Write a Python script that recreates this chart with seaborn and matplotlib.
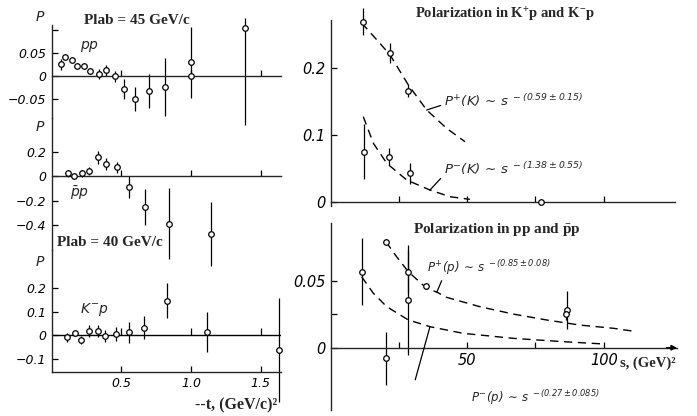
import numpy as np
import pandas as pd
import matplotlib
matplotlib.use("Agg")
import matplotlib.pyplot as plt
import seaborn as sns

# ---------------- data ----------------
# Left: P vs -t
t_pp45 = [0.068, 0.10, 0.145, 0.18, 0.235, 0.276, 0.34, 0.39, 0.455, 0.52, 0.60, 0.70, 0.81, 1.0, 1.0, 1.39]
P_pp45 = [0.026, 0.041, 0.035, 0.022, 0.022, 0.011, 0.004, 0.012, -0.001, -0.028, -0.049, -0.032, -0.023, 0.030, 0.001, 0.104]
elo_pp45 = [0.012, 0.005, 0.004, 0.004, 0.004, 0.007, 0.011, 0.011, 0.011, 0.021, 0.026, 0.037, 0.063, 0.077, 0.004, 0.21]
ehi_pp45 = [0.012, 0.005, 0.004, 0.004, 0.004, 0.007, 0.011, 0.011, 0.011, 0.021, 0.026, 0.037, 0.063, 0.077, 0.004, 0.022]

t_pbp45 = [0.116, 0.16, 0.216, 0.27, 0.335, 0.39, 0.47, 0.555, 0.67, 0.84, 1.14]
P_pbp45 = [0.022, -0.003, 0.022, 0.040, 0.153, 0.098, 0.071, -0.092, -0.25, -0.39, -0.476]
e_pbp45 = [0.03, 0.02, 0.03, 0.03, 0.055, 0.052, 0.045, 0.088, 0.146, 0.29, 0.26]

t_kmp40 = [0.11, 0.165, 0.21, 0.27, 0.33, 0.386, 0.46, 0.556, 0.663, 0.83, 1.115, 1.63]
P_kmp40 = [-0.01, 0.007, -0.021, 0.018, 0.018, -0.003, 0.004, 0.011, 0.031, 0.146, 0.011, -0.064]
e_kmp40 = [0.018, 0.012, 0.018, 0.026, 0.026, 0.025, 0.028, 0.046, 0.05, 0.075, 0.085, 0.22]

t_ticks = [0.5, 1.0, 1.5]
t_ticklabels = ["0.5", "1.0", "1.5"]

# Right top: K+p, K-p vs s
s_Kp = [12.0, 21.8, 28.5]
P_Kp = [0.27, 0.2225, 0.1665]
e_Kp = [0.02, 0.015, 0.01]
s_Km = [12.4, 21.5, 29.1, 77.0]
P_Km = [0.075, 0.0675, 0.0425, -0.001]
e_Km = [0.041, 0.0125, 0.016, 0.004]
sKp_fit = [11.4, 18.1, 21.8, 28.5, 35.2, 42.5, 49.2]
PKp_fit = [0.268, 0.2375, 0.22, 0.175, 0.1375, 0.11, 0.09]
sKm_fit = [12.0, 15.7, 20.6, 27.9, 36.4, 43.7, 51.0]
PKm_fit = [0.1275, 0.0875, 0.0575, 0.0325, 0.0175, 0.0075, 0.0035]

# Right bottom: pp, pbar p vs s
s_pp = [20.3, 28.5, 34.8, 86.4, 86.0]
P_pp = [0.0791, 0.0567, 0.046, 0.028, 0.025]
e_pp = [0.002, 0.016, 0.002, 0.014, 0.004]
s_pbp = [11.4, 20.3, 28.5]
P_pbp = [0.0567, -0.0079, 0.0356]
e_pbp = [0.025, 0.02, 0.041]
spp_fit = [20.3, 24.2, 28.5, 35.2, 38.9, 42.5, 54.7, 66.9, 79.1, 91.3, 103.5, 112.0]
Ppp_fit = [0.0791, 0.0679, 0.0567, 0.0443, 0.0415, 0.0376, 0.0306, 0.0251, 0.0207, 0.0169, 0.0145, 0.012]
spbp_fit = [11.4, 15.7, 20.6, 28.5, 36.4, 48.6, 66.9, 85.2, 99.8]
Ppbp_fit = [0.053, 0.0406, 0.0306, 0.0207, 0.0157, 0.0107, 0.007, 0.0045, 0.0028]

s_ticks = [25, 50, 75, 100]
s_ticklabels = ["", "50", "", "100"]

# ---------------- style ----------------
sns.set_theme(style="ticks")
plt.rcParams["font.family"] = ["DejaVu Sans"]
plt.rcParams["mathtext.fontset"] = "custom"
plt.rcParams["mathtext.it"] = "DejaVu Sans:italic"
plt.rcParams["mathtext.rm"] = "DejaVu Sans:italic"
plt.rcParams["mathtext.bf"] = "Liberation Serif:bold"
plt.rcParams["axes.linewidth"] = 1.0

W, H = 697, 416
fig = plt.figure(figsize=(W / 100, H / 100), dpi=100)
fig.patch.set_facecolor("white")


def rect(l, t, r, b):
    return [l / W, 1 - b / H, (r - l) / W, (b - t) / H]


def ftext(x, y, s, **kw):
    fig.text(x / W, 1 - y / H, s, **kw)


SERIF = ["Liberation Serif", "DejaVu Serif"]
DASH = (0, (6, 4))


def points(ax, x, y, yerr):
    ax.errorbar(x, y, yerr=yerr, fmt="none", ecolor="black", elinewidth=0.9,
                capsize=0, clip_on=False, zorder=2)
    sns.scatterplot(x=x, y=y, ax=ax, marker="o", s=16, facecolor="white",
                    edgecolor="black", linewidth=0.9, zorder=3, clip_on=False,
                    legend=False)


def curve(ax, x, y):
    sns.lineplot(x=x, y=y, ax=ax, color="black", linewidth=1.0,
                 linestyle=DASH, estimator=None, sort=False, legend=False)


def base(ax):
    ax.patch.set_visible(False)
    for sp in ["top", "right"]:
        ax.spines[sp].set_visible(False)
    ax.tick_params(direction="in", length=4, width=0.9, colors="black")
    ax.set_xlabel("")
    ax.set_ylabel("")


# ---------------- left panels ----------------
ax1 = fig.add_axes(rect(51.5, 25, 281, 118))
ax2 = fig.add_axes(rect(51.5, 118, 281, 250))
ax3 = fig.add_axes(rect(51.5, 250, 281, 372))

points(ax1, t_pp45, P_pp45, [elo_pp45, ehi_pp45])
points(ax2, t_pbp45, P_pbp45, e_pbp45)
points(ax3, t_kmp40, P_kmp40, e_kmp40)

lims = [(-0.0913, 0.1109), (-0.604, 0.4735), (-0.1574, 0.3617)]
yt = [([0.1, 0.05, 0, -0.05], ["", "0.05", "0", "\u22120.05"]),
      ([0.2, 0, -0.2, -0.4], ["0.2", "0", "\u22120.2", "\u22120.4"]),
      ([0.2, 0.1, 0, -0.1], ["0.2", "0.1", "0", "\u22120.1"])]
for ax, lim, (tv, tl) in zip([ax1, ax2, ax3], lims, yt):
    base(ax)
    ax.set_xlim(0, 1.645)
    ax.set_ylim(*lim)
    ax.set_yticks(tv)
    ax.set_yticklabels(tl, fontsize=9, fontstyle="italic")
    ax.set_xticks(t_ticks)

for ax in [ax1, ax2]:
    ax.spines["bottom"].set_position(("data", 0))
    ax.tick_params(axis="x", labelbottom=False)

ax3.set_xticklabels(t_ticklabels, fontsize=9, fontstyle="italic")
ax3.axhline(0, color="black", lw=1.0, zorder=1)
ax3.vlines(t_ticks, 0, 0.03, color="black", lw=0.9)

for y in [17, 127, 262]:
    ftext(40, y, "P", fontsize=10, fontstyle="italic", ha="center", va="center")

ftext(137, 20, "Plab = 45 GeV/c", family=SERIF, fontweight="bold", fontsize=11,
      ha="center", va="center")
ftext(110, 243, "Plab = 40 GeV/c", family=SERIF, fontweight="bold", fontsize=11,
      ha="center", va="center")
ftext(90, 47, "$pp$", fontsize=10, ha="center", va="center")
ftext(80, 193, r"$\bar{p}p$", fontsize=10, ha="center", va="center")
ftext(94, 310, "$K^{-}p$", fontsize=10, ha="center", va="center")
ftext(236, 405, "--t, (GeV/c)\u00b2", family=SERIF, fontweight="bold",
      fontsize=11.5, ha="center", va="center")

# ---------------- right top ----------------
ax4 = fig.add_axes(rect(330.5, 20, 675, 206))
base(ax4)
curve(ax4, sKp_fit, PKp_fit)
curve(ax4, sKm_fit, PKm_fit)
points(ax4, s_Kp, P_Kp, e_Kp)
points(ax4, s_Km, P_Km, e_Km)
ax4.set_xlim(0, 126.05)
ax4.set_ylim(-0.00645, 0.2725)
ax4.spines["bottom"].set_position(("data", 0))
ax4.set_xticks(s_ticks)
ax4.tick_params(axis="x", labelbottom=False)
ax4.set_yticks([0, 0.1, 0.2])
ax4.set_yticklabels(["0", "0.1", "0.2"], fontsize=10.5, fontstyle="italic")
ax4.set_xlabel("")
ax4.set_ylabel("")

ax4.annotate(r"$P^{+}(K)\,\sim\,s^{\ -(0.59\pm0.15)}$", xy=(sKp_fit[4], PKp_fit[4]),
             xytext=(41.5, 0.151), fontsize=9.5, ha="left", va="center",
             arrowprops=dict(arrowstyle="-", color="black", lw=0.9,
                             shrinkA=0, shrinkB=0, relpos=(0.0, 0.3)))
ax4.annotate(r"$P^{-}(K)\,\sim\,s^{\ -(1.38\pm0.55)}$", xy=(sKm_fit[4], PKm_fit[4]),
             xytext=(41.5, 0.049), fontsize=9.5, ha="left", va="center",
             arrowprops=dict(arrowstyle="-", color="black", lw=0.9,
                             shrinkA=0, shrinkB=0, relpos=(0.0, 0.15)))
ftext(505, 15, r"Polarization in K$\mathbf{^{+}}$p and K$\mathbf{^{-}}$p", family=SERIF,
      fontweight="bold", fontsize=10.5, ha="center", va="center")

# ---------------- right bottom ----------------
ax5 = fig.add_axes(rect(330.5, 223, 677, 410))
base(ax5)
curve(ax5, spp_fit, Ppp_fit)
curve(ax5, spbp_fit, Ppbp_fit)
points(ax5, s_pp, P_pp, e_pp)
points(ax5, s_pbp, P_pbp, e_pbp)
ax5.set_xlim(0, 126.8)
ax5.set_ylim(-0.0465, 0.0931)
ax5.spines["bottom"].set_position(("data", 0))
ax5.set_xticks(s_ticks)
ax5.set_xticklabels(s_ticklabels, fontsize=10.5, fontstyle="italic")
ax5.set_yticks([0, 0.025, 0.05])
ax5.set_yticklabels(["0", "", "0.05"], fontsize=10.5, fontstyle="italic")
ax5.set_xlabel("")
ax5.set_ylabel("")
ax5.annotate("", xy=(1.0, 0), xycoords=("axes fraction", "data"),
             xytext=(0.97, 0), textcoords=("axes fraction", "data"),
             arrowprops=dict(arrowstyle="-|>", color="black", lw=1.0,
                             mutation_scale=8, shrinkA=0, shrinkB=0))

ax5.annotate(r"$P^{+}(p)\,\sim\,s^{\ -(0.85\pm0.08)}$", xy=(spp_fit[4], Ppp_fit[4]),
             xytext=(35.3, 0.0595), fontsize=8.5, ha="left", va="center",
             arrowprops=dict(arrowstyle="-", color="black", lw=0.9,
                             shrinkA=0, shrinkB=0, relpos=(0.13, 0.0)))
ax5.annotate("", xy=(spbp_fit[4], Ppbp_fit[4]), xytext=(31.0, -0.024),
             arrowprops=dict(arrowstyle="-", color="black", lw=0.9,
                             shrinkA=0, shrinkB=0))
ax5.text(51.5, -0.0375, r"$P^{-}(p)\,\sim\,s^{\ -(0.27\pm0.085)}$", fontsize=8.5,
         ha="left", va="center")
ftext(497, 230, r"Polarization in pp and $\mathbf{\bar{p}}$p", family=SERIF,
      fontweight="bold", fontsize=11, ha="center", va="center")
ftext(620, 363, "s, (GeV)\u00b2", family=SERIF, fontweight="bold", fontsize=10.5,
      ha="left", va="center")

fig.savefig("out.png", dpi=100, facecolor="white")
